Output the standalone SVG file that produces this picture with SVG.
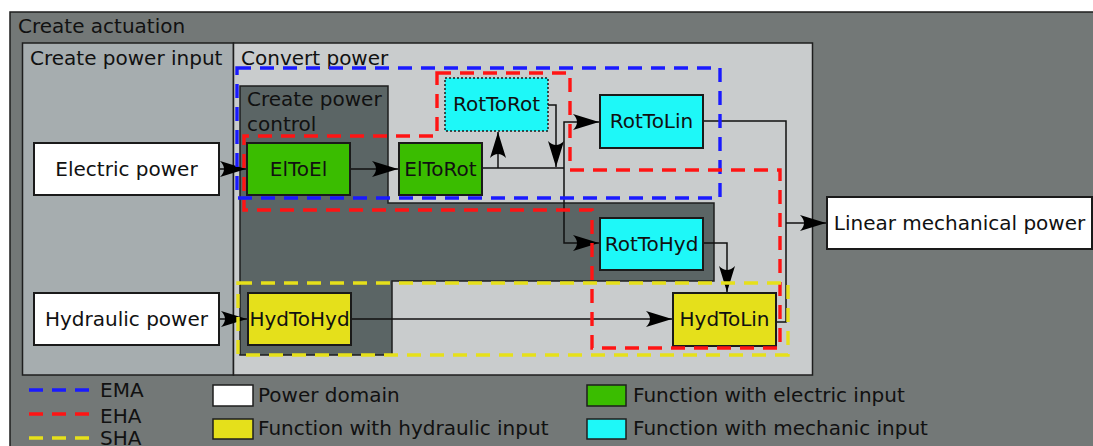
<svg xmlns="http://www.w3.org/2000/svg" width="1093" height="446" viewBox="0 0 1093 446">
<style>
text{font-family:"DejaVu Sans",Verdana,sans-serif;font-size:20px;fill:#111}
.c{text-anchor:middle}
.cont{stroke:#1e1e1e;stroke-width:1.5}
.node{stroke:#1a1a1a;stroke-width:2}
.pd{fill:#ffffff}
.el{fill:#3abd00}
.me{fill:#1ef8f8}
.hy{fill:#e5e01b}
.wire{fill:none;stroke:#111;stroke-width:1.5}
.arr{marker-end:url(#ah)}
.grp{fill:none;stroke-width:3.4;stroke-dasharray:14,9}
.ema{stroke:#1a1aff}
.eha{stroke:#ff1414}
.sha{stroke:#e6e01a}
</style>
<defs>
<marker id="ah" markerUnits="userSpaceOnUse" markerWidth="28" markerHeight="18" refX="26" refY="8.5" orient="auto">
<path d="M26,8.5 L0,0.5 Q8,8.5 0,16.5 Z" fill="#000"/>
</marker>
</defs>
<g id="create-actuation">
<rect x="10" y="12" width="1090" height="440" fill="#737877" class="cont"/>
<text x="18" y="33">Create actuation</text>
</g>
<g id="create-power-input">
<rect x="22.5" y="43" width="211" height="332" fill="#a6adaf" class="cont"/>
<text x="30" y="65">Create power input</text>
</g>
<g id="convert-power">
<rect x="233.5" y="43" width="579" height="332" fill="#c9cccd" class="cont"/>
<text x="241" y="65">Convert power</text>
</g>
<g id="create-power-control">
<path d="M240,86 H388 V203 H714 V281 H392 V355 H240 Z" fill="#5b6565" class="cont"/>
<text x="247" y="106">Create power</text>
<text x="247" y="131">control</text>
</g>
<g id="connectors">
<path class="wire arr" d="M219,169 H246"/>
<path class="wire arr" d="M350,169 H398"/>
<path class="wire" d="M482,168 H564"/>
<path class="wire arr" d="M498,168 V132"/>
<path class="wire arr" d="M548,105 H556 V167"/>
<path class="wire arr" d="M564,168 V122 H599"/>
<path class="wire arr" d="M564,168 V243 H599"/>
<path class="wire arr" d="M703,243 H727 V292"/>
<path class="wire" d="M703,121 H786 V322 H776"/>
<path class="wire arr" d="M786,223 H826"/>
<path class="wire arr" d="M219,319 H247"/>
<path class="wire arr" d="M351,319 H672"/>
</g>
<g id="electric-power">
<rect x="34" y="143" width="185" height="52" class="node pd"/>
<text x="126.5" y="176" class="c">Electric power</text>
</g>
<g id="hydraulic-power">
<rect x="34" y="293" width="185" height="52" class="node pd"/>
<text x="126.5" y="326" class="c">Hydraulic power</text>
</g>
<g id="ElToEl">
<rect x="247" y="143" width="103" height="52" class="node el"/>
<text x="298.5" y="176" class="c">ElToEl</text>
</g>
<g id="ElToRot">
<rect x="399" y="143" width="83" height="52" class="node el"/>
<text x="440.5" y="176" class="c">ElToRot</text>
</g>
<g id="RotToRot">
<rect x="445" y="78" width="103" height="53" fill="#1ef8f8" stroke="#1a1a1a" stroke-width="1.5" stroke-dasharray="2,2"/>
<text x="496.5" y="111" class="c">RotToRot</text>
</g>
<g id="RotToLin">
<rect x="600" y="95" width="103" height="53" class="node me"/>
<text x="651.5" y="128" class="c">RotToLin</text>
</g>
<g id="RotToHyd">
<rect x="600" y="218" width="103" height="52" class="node me"/>
<text x="651.5" y="251" class="c">RotToHyd</text>
</g>
<g id="HydToHyd">
<rect x="248" y="293" width="103" height="52" class="node hy"/>
<text x="299.5" y="326" class="c">HydToHyd</text>
</g>
<g id="HydToLin">
<rect x="673" y="293" width="103" height="53" class="node hy"/>
<text x="724.5" y="326" class="c">HydToLin</text>
</g>
<g id="linear-mechanical-power">
<rect x="827" y="197" width="265" height="52" class="node pd"/>
<text x="959.5" y="230" class="c">Linear mechanical power</text>
</g>
<g id="groups">
<rect x="237" y="68" width="483" height="130" class="grp ema"/>
<path d="M437,73 H570 V170 H780 V348 H592 V210 H244 V136 H437 Z" class="grp eha"/>
<rect x="238" y="283" width="550" height="72" class="grp sha"/>
</g>
<g id="legend">
<line x1="29" y1="390" x2="92" y2="390" class="grp ema" stroke-dasharray="16,14"/>
<line x1="29" y1="414" x2="92" y2="414" class="grp eha" stroke-dasharray="16,14"/>
<line x1="29" y1="438" x2="92" y2="438" class="grp sha" stroke-dasharray="16,14"/>
<text x="100" y="397">EMA</text>
<text x="100" y="423">EHA</text>
<text x="100" y="445">SHA</text>
<rect x="213" y="385" width="40" height="21" class="cont pd"/>
<text x="258" y="402">Power domain</text>
<rect x="213" y="419" width="40" height="20" class="cont hy"/>
<text x="258" y="435">Function with hydraulic input</text>
<rect x="587" y="385" width="39" height="21" class="cont el"/>
<text x="633" y="402">Function with electric input</text>
<rect x="587" y="419" width="39" height="20" class="cont me"/>
<text x="633" y="435">Function with mechanic input</text>
</g>
</svg>
